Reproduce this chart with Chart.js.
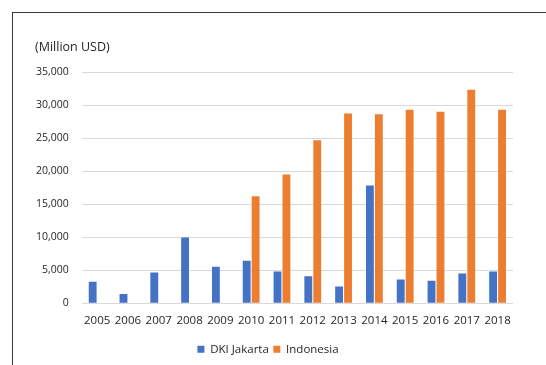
<!DOCTYPE html>
<html>
<head>
<meta charset="utf-8">
<script src="https://cdn.jsdelivr.net/npm/chart.js@4"></script>
<style>
  html, body { margin: 0; padding: 0; background: #fff; }
  #wrap { position: relative; width: 546px; height: 365px; overflow: hidden; }
  #frame { position: absolute; left: 12px; top: 12px; width: 600px; height: 400px;
           border-top: 1.5px solid #3a3a3a; border-left: 1.5px solid #3a3a3a; }
  canvas { position: absolute; left: 0; top: 0; }
</style>
</head>
<body>
<div id="wrap">
  <div id="frame"></div>
  <canvas id="c" width="546" height="365"></canvas>
</div>
<script>
// Years on the category axis
const years = ['2005','2006','2007','2008','2009','2010','2011','2012','2013','2014','2015','2016','2017','2018'];
// Values in million USD
const jakarta = [3230, 1410, 4650, 9950, 5500, 6410, 4800, 4090, 2530, 17830, 3590, 3380, 4500, 4800];
const indonesia = [null, null, null, null, null, 16200, 19500, 24650, 28700, 28600, 29300, 29000, 32300, 29300];
const unitLabel = '(Million USD)';

const FONT = '"Open Sans", "Liberation Sans", sans-serif';

// Draws the unit caption above the value axis
const unitCaption = {
  id: 'unitCaption',
  afterDraw(chart) {
    const ctx = chart.ctx;
    ctx.save();
    ctx.font = '12.5px ' + FONT;
    ctx.fillStyle = '#262626';
    ctx.textAlign = 'left';
    ctx.textBaseline = 'middle';
    ctx.fillText(unitLabel, 35, 47);
    ctx.restore();
  }
};

new Chart(document.getElementById('c'), {
  type: 'bar',
  data: {
    labels: years,
    datasets: [
      { label: 'DKI Jakarta', data: jakarta, backgroundColor: '#4472C4',
        barPercentage: 0.88, categoryPercentage: 0.58 },
      { label: 'Indonesia', data: indonesia, backgroundColor: '#ED7D31',
        barPercentage: 0.88, categoryPercentage: 0.58 }
    ]
  },
  options: {
    responsive: false,
    animation: false,
    layout: { padding: { left: 23, right: 33, top: 72, bottom: 0 } },
    plugins: {
      legend: {
        position: 'bottom',
        labels: {
          boxWidth: 7, boxHeight: 7, padding: 4.5,
          color: '#262626', font: { family: FONT, size: 11.5 }
        }
      },
      tooltip: { enabled: false }
    },
    scales: {
      x: {
        grid: { display: false, drawTicks: false },
        border: { display: false },
        ticks: { color: '#262626', font: { family: FONT, size: 11.5 }, padding: 11,
                 maxRotation: 0, autoSkip: false }
      },
      y: {
        min: 0, max: 35000,
        grid: { color: '#d9d9d9', lineWidth: 1, drawTicks: false },
        border: { display: false },
        ticks: {
          stepSize: 5000, padding: 13, color: '#262626',
          font: { family: FONT, size: 10.5 },
          callback: v => v.toLocaleString('en-US')
        }
      }
    }
  },
  plugins: [unitCaption]
});
</script>
</body>
</html>
